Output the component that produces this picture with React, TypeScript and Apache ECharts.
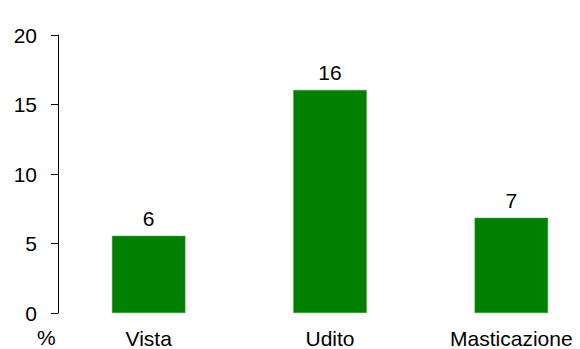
import React, { useEffect, useRef } from "react";
import * as echarts from "echarts";

const categories = ["Vista", "Udito", "Masticazione"];
const values = [5.55, 16.05, 6.85];
const yTicks = { min: 0, max: 20, interval: 5 };
const unitLabel = "%";

export default function App() {
  const ref = useRef<HTMLDivElement>(null);
  useEffect(() => {
    if (!ref.current) return;
    const chart = echarts.init(ref.current, undefined, { renderer: "svg" });
    const font = "'Liberation Sans', Arial, Helvetica, sans-serif";
    chart.setOption({
      animation: false,
      backgroundColor: "#ffffff",
      grid: { left: 58, right: 0, top: 35, bottom: 35, containLabel: false },
      xAxis: {
        type: "category",
        data: categories,
        axisLine: { show: false },
        axisTick: { show: false },
        axisLabel: { color: "#000", fontSize: 21, fontFamily: font, margin: 15 },
      },
      yAxis: {
        type: "value",
        min: yTicks.min,
        max: yTicks.max,
        interval: yTicks.interval,
        splitLine: { show: false },
        axisLine: { show: true, lineStyle: { color: "#000", width: 1 } },
        axisTick: { show: true, length: 7, lineStyle: { color: "#000" } },
        axisLabel: { color: "#000", fontSize: 21, fontFamily: font, margin: 21 },
      },
      graphic: [
        {
          type: "text",
          left: 37,
          top: 327,
          style: { text: unitLabel, fill: "#000", font: `21px ${font}` },
        },
      ],
      series: [
        {
          type: "bar",
          data: values,
          barWidth: "40.5%",
          itemStyle: { color: "#008000", borderColor: "#3a9a3a", borderWidth: 0.5 },
          label: {
            show: true,
            position: "top",
            distance: 7,
            color: "#000",
            fontSize: 21,
            fontFamily: font,
            formatter: (p: any) => String(Math.round(p.value)),
          },
        },
      ],
    });
    return () => chart.dispose();
  }, []);
  return (
    <div
      style={{ position: "absolute", left: 0, top: 0, width: 580, height: 349, overflow: "hidden" }}
    >
      <div ref={ref} style={{ width: 602, height: 349 }} />
    </div>
  );
}
